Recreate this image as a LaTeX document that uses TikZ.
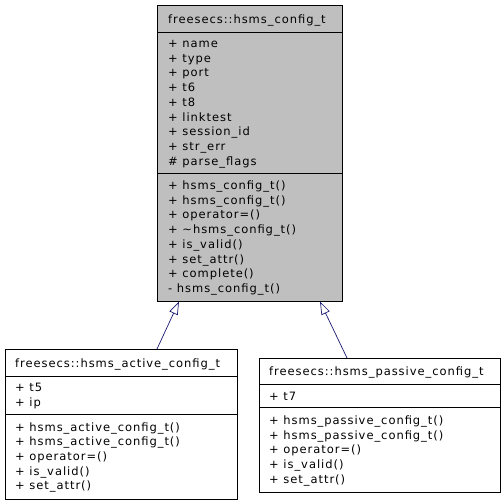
\documentclass[tikz,border=0pt]{standalone}
\usepackage{fontspec}
\usetikzlibrary{arrows.meta}
\newfontfamily\dvfont[LetterSpace=8.3]{DejaVu Sans}
\definecolor{boxgray}{RGB}{191,191,191}
\definecolor{edgeblue}{RGB}{25,25,112}
\tikzset{
  umlbox/.style={draw=black, line width=0.8pt, rectangle, inner sep=0pt, anchor=north west},
  txt/.style={anchor=base west, inner sep=0pt, font=\dvfont\fontsize{11.5}{14}\selectfont},
  sepline/.style={draw=black, line width=0.8pt},
  inherit/.style={draw=edgeblue, line width=0.7pt, -{Triangle[open, length=13pt, width=9pt]}},
}
\begin{document}
\begin{tikzpicture}[x=1pt, y=-1pt]
\useasboundingbox (0,0) rectangle (504,504);
% base class
\node[umlbox, fill=boxgray, minimum width=185, minimum height=296] (base) at (157,5) {};
\draw[sepline] (base.west |- 0,32) -- (base.east |- 0,32);
\draw[sepline] (base.west |- 0,173) -- (base.east |- 0,173);
\node[txt] (bt) at (168,23) {freesecs::hsms\_config\_t};
\node[txt] (ba1) at (168,47.5) {+ name};
\node[txt] (ba2) at (168,62.2) {+ type};
\node[txt] (ba3) at (168,76.9) {+ port};
\node[txt] (ba4) at (168,91.6) {+ t6};
\node[txt] (ba5) at (168,106.3) {+ t8};
\node[txt] (ba6) at (168,121) {+ linktest};
\node[txt] (ba7) at (168,135.7) {+ session\_id};
\node[txt] (ba8) at (168,150.4) {+ str\_err};
\node[txt] (ba9) at (168,165.1) {\# parse\_flags};
\node[txt] (bm1) at (168,189.5) {+ hsms\_config\_t()};
\node[txt] (bm2) at (168,204.2) {+ hsms\_config\_t()};
\node[txt] (bm3) at (168,218.9) {+ operator=()};
\node[txt] (bm4) at (168,233.6) {+ \textasciitilde hsms\_config\_t()};
\node[txt] (bm5) at (168,248.3) {+ is\_valid()};
\node[txt] (bm6) at (168,263) {+ set\_attr()};
\node[txt] (bm7) at (168,277.7) {+ complete()};
\node[txt] (bm8) at (168,292.4) {- hsms\_config\_t()};
% active
\node[umlbox, fill=white, minimum width=232, minimum height=150] (act) at (5,349) {};
\draw[sepline] (act.west |- 0,376) -- (act.east |- 0,376);
\draw[sepline] (act.west |- 0,414.5) -- (act.east |- 0,414.5);
\node[txt] (at) at (15,367) {freesecs::hsms\_active\_config\_t};
\node[txt] (aa1) at (15,391.7) {+ t5};
\node[txt] (aa2) at (15,406.4) {+ ip};
\node[txt] (am1) at (15,431) {+ hsms\_active\_config\_t()};
\node[txt] (am2) at (15,445.7) {+ hsms\_active\_config\_t()};
\node[txt] (am3) at (15,460.4) {+ operator=()};
\node[txt] (am4) at (15,475.1) {+ is\_valid()};
\node[txt] (am5) at (15,489.8) {+ set\_attr()};
% passive
\node[umlbox, fill=white, minimum width=241, minimum height=134] (pas) at (259,358) {};
\draw[sepline] (pas.west |- 0,384) -- (pas.east |- 0,384);
\draw[sepline] (pas.west |- 0,407.5) -- (pas.east |- 0,407.5);
\node[txt] (pt) at (269,375.5) {freesecs::hsms\_passive\_config\_t};
\node[txt] (pa1) at (269,400) {+ t7};
\node[txt] (pm1) at (269,424.5) {+ hsms\_passive\_config\_t()};
\node[txt] (pm2) at (269,439.2) {+ hsms\_passive\_config\_t()};
\node[txt] (pm3) at (269,453.9) {+ operator=()};
\node[txt] (pm4) at (269,468.6) {+ is\_valid()};
\node[txt] (pm5) at (269,483.3) {+ set\_attr()};
% edges
\coordinate (actfrom) at (157,349);
\coordinate (acttip) at (179,301.5);
\coordinate (pasfrom) at (347,358);
\coordinate (pastip) at (320,301.5);
\draw[inherit] (actfrom) -- (acttip);
\draw[inherit] (pasfrom) -- (pastip);
\end{tikzpicture}
\end{document}
